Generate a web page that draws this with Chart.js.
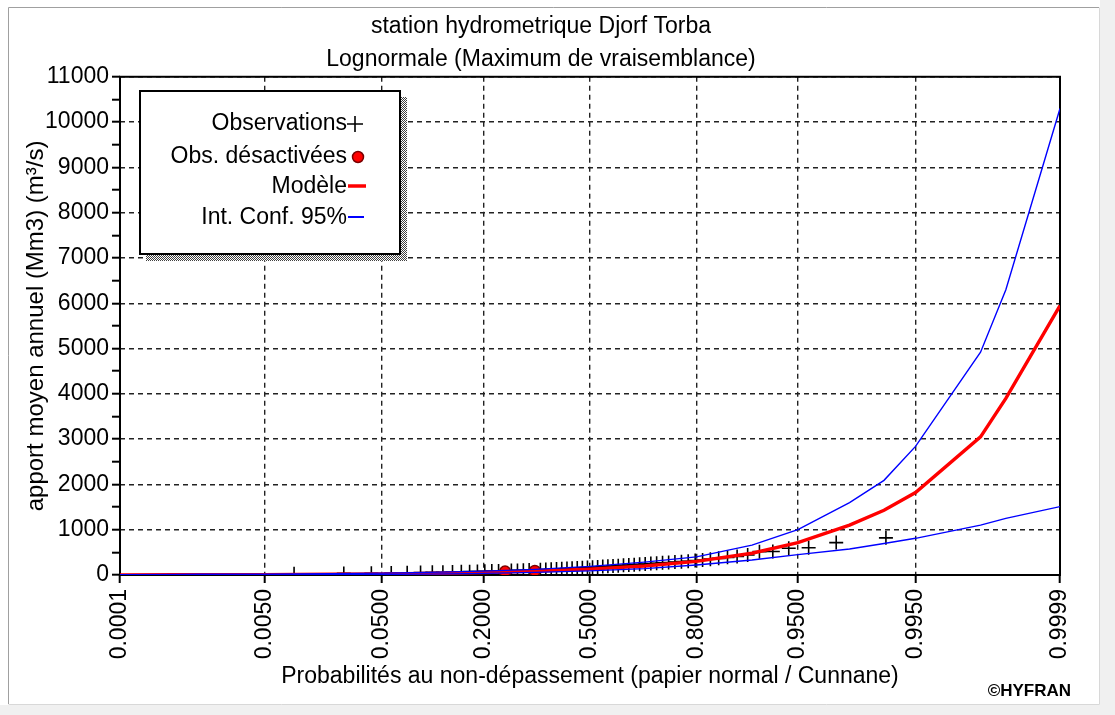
<!DOCTYPE html>
<html><head><meta charset="utf-8">
<script src="https://cdn.jsdelivr.net/npm/chart.js@4.4.1/dist/chart.umd.min.js"></script>
<style>html,body{margin:0;padding:0;background:#fff;}canvas{display:block;}</style>
</head><body>
<canvas id="c" width="1115" height="715"></canvas>
<script>
// ---------- data ----------
const titleLines = ['station hydrometrique Djorf Torba', 'Lognormale (Maximum de vraisemblance)'];
const xTitle = 'Probabilités au non-dépassement (papier normal / Cunnane)';
const yTitle = 'apport moyen annuel (Mm3) (m³/s)';
const creditText = '©HYFRAN';
const xTickProbs = [0.0001, 0.005, 0.05, 0.2, 0.5, 0.8, 0.95, 0.995, 0.9999];
const xTickLabels = ['0.0001', '0.0050', '0.0500', '0.2000', '0.5000', '0.8000', '0.9500', '0.9950', '0.9999'];
const yMin = 0, yMax = 11000, yMajorStep = 1000, yMinorStep = 500;

const curveProbs  = [0.0001, 0.0005, 0.001, 0.005, 0.01, 0.02, 0.05, 0.1, 0.2, 0.3333, 0.5, 0.6667, 0.8, 0.9, 0.95, 0.98, 0.99, 0.995, 0.999, 0.9995, 0.9999];
const modelValues = [3, 5, 6.5, 9, 12, 16, 24, 35, 55, 85, 130, 200, 300, 480, 715, 1100, 1430, 1820, 3050, 3900, 5950];
const upperValues = [8, 12, 15, 19, 24, 30, 42, 58, 85, 125, 190, 285, 400, 660, 1000, 1600, 2090, 2840, 4920, 6300, 10300];
const lowerValues = [1, 2, 2.5, 4, 6, 8, 13, 20, 35, 58, 90, 140, 220, 330, 450, 575, 695, 810, 1100, 1250, 1510];

const obsProbs = [0.0096, 0.0257, 0.0418, 0.0579, 0.0740, 0.0900, 0.1061, 0.1222, 0.1383, 0.1543,
  0.1704, 0.1865, 0.2026, 0.2186, 0.2347, 0.2669, 0.2830, 0.2990, 0.3151, 0.3473,
  0.3633, 0.3794, 0.3955, 0.4116, 0.4277, 0.4437, 0.4598, 0.4759, 0.4920, 0.5080,
  0.5241, 0.5402, 0.5563, 0.5723, 0.5884, 0.6045, 0.6206, 0.6367, 0.6527, 0.6688,
  0.6849, 0.7010, 0.7170, 0.7331, 0.7492, 0.7653, 0.7814, 0.7974, 0.8135, 0.8296,
  0.8457, 0.8617, 0.8778, 0.8939, 0.9100, 0.9260, 0.9421, 0.9582, 0.9743, 0.9904];
const obsValues = [25, 35, 40, 45, 50, 55, 58, 62, 65, 70,
  74, 78, 82, 86, 90, 98, 102, 106, 110, 118,
  122, 127, 132, 137, 142, 148, 154, 160, 166, 172,
  178, 185, 192, 199, 206, 213, 220, 228, 236, 244,
  252, 260, 268, 276, 285, 295, 305, 318, 332, 350,
  368, 390, 410, 440, 515, 520, 590, 600, 715, 820];
const offProbs = [0.2508, 0.3312];
const offValues = [75, 90];

// ---------- helpers ----------
const FONT = "'Liberation Sans', Arial, sans-serif";
function probit(p) { // inverse standard normal (normal probability paper transform)
  const a=[-3.969683028665376e+01,2.209460984245205e+02,-2.759285104469687e+02,1.383577518672690e+02,-3.066479806614716e+01,2.506628277459239e+00];
  const b=[-5.447609879822406e+01,1.615858368580409e+02,-1.556989798598866e+02,6.680131188771972e+01,-1.328068155288572e+01];
  const c=[-7.784894002430293e-03,-3.223964580411365e-01,-2.400758277161838e+00,-2.549671750640039e+00,4.374664141464968e+00,2.938163982698783e+00];
  const d=[7.784695709041462e-03,3.224671290700398e-01,2.445134137142996e+00,3.754408661907416e+00];
  const pl=0.02425, ph=1-pl; let q, r;
  if (p < pl) { q=Math.sqrt(-2*Math.log(p)); return (((((c[0]*q+c[1])*q+c[2])*q+c[3])*q+c[4])*q+c[5])/((((d[0]*q+d[1])*q+d[2])*q+d[3])*q+1); }
  if (p <= ph) { q=p-0.5; r=q*q; return (((((a[0]*r+a[1])*r+a[2])*r+a[3])*r+a[4])*r+a[5])*q/(((((b[0]*r+b[1])*r+b[2])*r+b[3])*r+b[4])*r+1); }
  q=Math.sqrt(-2*Math.log(1-p)); return -(((((c[0]*q+c[1])*q+c[2])*q+c[3])*q+c[4])*q+c[5])/((((d[0]*q+d[1])*q+d[2])*q+d[3])*q+1);
}
const pts = (ps, vs) => ps.map((p, i) => ({x: probit(p), y: vs[i]}));

// ---------- plugins ----------
const panelPlugin = {
  id: 'panel',
  beforeDraw(chart) {
    const ctx = chart.ctx, W = chart.width, H = chart.height;
    ctx.save();
    ctx.fillStyle = '#ffffff'; ctx.fillRect(0, 0, W, H);
    ctx.fillStyle = '#f0f0f0';
    ctx.fillRect(1100, 0, W - 1100, H);
    ctx.fillRect(0, 705, W, H - 705);
    ctx.strokeStyle = '#a0a0a0'; ctx.lineWidth = 1;
    ctx.beginPath(); ctx.moveTo(8.5, 704); ctx.lineTo(8.5, 7.5); ctx.lineTo(1099, 7.5); ctx.stroke();
    ctx.strokeStyle = '#d8d8d8';
    ctx.beginPath(); ctx.moveTo(1099.5, 7.5); ctx.lineTo(1099.5, 704.5); ctx.lineTo(8.5, 704.5); ctx.stroke();
    ctx.restore();
  }
};
const framePlugin = {
  id: 'frame',
  beforeDatasetsDraw(chart) {
    const {ctx, chartArea: a} = chart;
    ctx.save();
    ctx.strokeStyle = '#000'; ctx.lineWidth = 2;
    ctx.strokeRect(a.left, a.top, a.right - a.left, a.bottom - a.top);
    ctx.restore();
  }
};
const legendPlugin = {
  id: 'boxLegend',
  afterDatasetsDraw(chart) {
    const ctx = chart.ctx;
    const ds = chart.data.datasets;
    const L = 140, T = 91, R = 400, B = 254;
    ctx.save();
    // dithered shadow
    const pc = document.createElement('canvas'); pc.width = 2; pc.height = 2;
    const pctx = pc.getContext('2d');
    pctx.fillStyle = '#ffffff'; pctx.fillRect(0, 0, 2, 2);
    pctx.fillStyle = '#404040'; pctx.fillRect(0, 0, 1, 1); pctx.fillRect(1, 1, 1, 1);
    ctx.fillStyle = ctx.createPattern(pc, 'repeat');
    ctx.fillRect(R, T + 6, 7, B - T + 1);
    ctx.fillRect(L + 6, B, R - L + 1, 7);
    ctx.fillStyle = '#fff'; ctx.fillRect(L, T, R - L, B - T);
    ctx.strokeStyle = '#000'; ctx.lineWidth = 2;
    ctx.strokeRect(L, T, R - L, B - T);
    ctx.font = '23px ' + FONT; ctx.fillStyle = '#000';
    ctx.textAlign = 'right'; ctx.textBaseline = 'middle';
    const tx = 347;
    const rows = [
      {ds: ds[4], y: 124}, {ds: ds[3], y: 157}, {ds: ds[2], y: 187}, {ds: ds[0], y: 218}
    ];
    rows.forEach(r => ctx.fillText(r.ds.label, tx, r.y));
    // symbols
    ctx.strokeStyle = '#000'; ctx.lineWidth = 1.6;
    ctx.beginPath(); ctx.moveTo(347, 124); ctx.lineTo(363, 124); ctx.moveTo(355, 116); ctx.lineTo(355, 132); ctx.stroke();
    ctx.beginPath(); ctx.arc(358, 157, 5.5, 0, Math.PI * 2);
    ctx.fillStyle = ds[3].backgroundColor; ctx.fill();
    ctx.strokeStyle = ds[3].borderColor; ctx.lineWidth = 1.5; ctx.stroke();
    ctx.strokeStyle = ds[2].borderColor; ctx.lineWidth = 3.5;
    ctx.beginPath(); ctx.moveTo(348, 186); ctx.lineTo(366, 186); ctx.stroke();
    ctx.strokeStyle = ds[0].borderColor; ctx.lineWidth = 2;
    ctx.beginPath(); ctx.moveTo(348, 217); ctx.lineTo(364, 217); ctx.stroke();
    ctx.restore();
  },
  afterDraw(chart) {
    const ctx = chart.ctx;
    ctx.save();
    ctx.font = 'bold 17px ' + FONT; ctx.fillStyle = '#000';
    ctx.textAlign = 'right'; ctx.textBaseline = 'middle';
    ctx.fillText(creditText, 1071, 691);
    ctx.restore();
  }
};

// ---------- chart ----------
const lineStyle = {showLine: true, pointRadius: 0, pointHoverRadius: 0, fill: false, tension: 0};
new Chart(document.getElementById('c'), {
  type: 'scatter',
  data: {
    datasets: [
      Object.assign({label: 'Int. Conf. 95%', data: pts(curveProbs, upperValues), borderColor: '#0000ff', borderWidth: 1.4}, lineStyle),
      Object.assign({label: 'Int. Conf. 95% (inf.)', data: pts(curveProbs, lowerValues), borderColor: '#0000ff', borderWidth: 1.4}, lineStyle),
      Object.assign({label: 'Modèle', data: pts(curveProbs, modelValues), borderColor: '#ff0000', borderWidth: 3.4}, lineStyle),
      {label: 'Obs. désactivées', data: pts(offProbs, offValues), pointStyle: 'circle', pointRadius: 5.5,
        backgroundColor: '#ff0000', borderColor: '#7a0000', borderWidth: 1.5},
      {label: 'Observations', data: pts(obsProbs, obsValues), pointStyle: 'cross', pointRadius: 7,
        backgroundColor: 'rgba(0,0,0,0)', borderColor: '#000', borderWidth: 1.6}
    ]
  },
  options: {
    responsive: false, animation: false, devicePixelRatio: 1,
    layout: {padding: {top: 10, left: 22, right: 55, bottom: 0}},
    plugins: {
      legend: {display: false}, tooltip: {enabled: false},
      title: {display: true, text: titleLines, color: '#000', font: {family: FONT, size: 23, weight: 'normal', lineHeight: 1.43},
        padding: {top: 0, bottom: 1}}
    },
    scales: {
      x: {
        type: 'linear', min: probit(xTickProbs[0]), max: probit(xTickProbs[xTickProbs.length - 1]),
        afterBuildTicks: s => { s.ticks = xTickProbs.map(p => ({value: probit(p)})); },
        afterFit: s => { s.height = 140; },
        ticks: {autoSkip: false, minRotation: 90, maxRotation: 90, padding: 6, color: '#000',
          font: {family: FONT, size: 23}, callback: (v, i) => xTickLabels[i]},
        grid: {color: '#222', lineWidth: 1.4, tickColor: '#000', tickWidth: 2, tickLength: 8},
        border: {display: false, dash: [5, 4]},
        title: {display: true, text: xTitle, color: '#000', font: {family: FONT, size: 23}, padding: {top: 0, bottom: 25}}
      },
      y: {
        type: 'linear', min: yMin, max: yMax,
        afterFit: s => { s.width = 98; },
        ticks: {stepSize: yMinorStep, autoSkip: false, padding: 3, color: '#000', font: {family: FONT, size: 23},
          callback: v => (v % yMajorStep === 0 ? String(v) : '')},
        grid: {color: c => (c.tick && c.tick.value % yMajorStep === 0 ? '#222' : 'rgba(0,0,0,0)'),
          lineWidth: 1.4, tickColor: '#000', tickWidth: 2, tickLength: 8},
        border: {display: false, dash: [5, 4]},
        title: {display: true, text: yTitle, color: '#000', font: {family: FONT, size: 24}, padding: {top: 0, bottom: 0}}
      }
    }
  },
  plugins: [panelPlugin, framePlugin, legendPlugin]
});
</script>
</body></html>
